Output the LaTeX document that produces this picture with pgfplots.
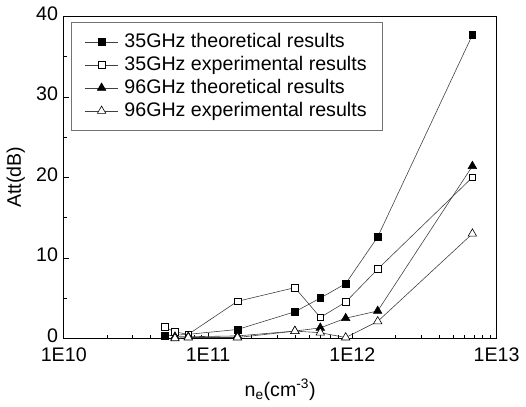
\documentclass[border=0pt]{standalone}
\usepackage{fontspec}
\setmainfont{Liberation Sans}
\usepackage{pgfplots}
\pgfplotsset{compat=1.18}
\begin{document}
\fontsize{20}{23}\selectfont
\begin{tikzpicture}
\begin{axis}[
  scale only axis, width=441pt, height=328pt,
  xmode=log, xmin=1e10, xmax=1e13,
  ymin=0, ymax=40,
  xtick={1e10,1e11,1e12,1e13},
  xticklabels={1E10,1E11,1E12,1E13},
  ytick={0,10,20,30,40}, minor ytick={5,15,25,35},
  tick align=inside, axis line style={black, line width=0.8pt},
  xtick pos=bottom, ytick pos=left,
  major tick length=5pt, minor tick length=3pt,
  tick style={black, line width=0.6pt},
  /pgf/number format/assume math mode=true,
  tick label style={font=\fontsize{20}{23}\selectfont},
  xticklabel style={yshift=-3pt},
  yticklabel style={xshift=1pt, yshift=3pt},
  label style={font=\fontsize{20}{23}\selectfont},
  xlabel={n\textsubscript{e}(cm\textsuperscript{-3})},
  xlabel style={yshift=-4pt},
  ylabel={Att(dB)},
  ylabel style={yshift=-2pt},
  clip=false,
  every axis plot/.append style={black!75, line width=0.6pt},
  legend style={at={(0.016,0.982)}, anchor=north west, draw=black!55,
    font=\fontsize{20}{23}\selectfont, row sep=2pt, inner xsep=14pt, inner ysep=9pt},
  legend cell align=left,
  legend image code/.code={
    \draw[#1] (0pt,0pt) -- (34pt,0pt);
    \draw[#1, mark repeat=2, mark phase=2] plot coordinates {(0pt,0pt) (17pt,0pt) (34pt,0pt)};
    \path (38pt,0pt);
  },
]
\addplot[mark=square*, mark size=3.4pt, mark options={fill=black, draw=black, solid}]
  coordinates {(5.0e10,0.3) (7.3e10,0.5) (1.6e11,1.1) (4.0e11,3.3) (6.0e11,5.0)
               (9.0e11,6.8) (1.5e12,12.6) (6.8e12,37.7)};
\addlegendentry{35GHz theoretical results}
\addplot[mark=square*, mark size=3.4pt, mark options={fill=white, draw=black, line width=0.6pt}]
  coordinates {(5.0e10,1.4) (5.9e10,0.8) (7.3e10,0.5) (1.6e11,4.6) (4.0e11,6.3)
               (6.0e11,2.6) (9.0e11,4.5) (1.5e12,8.6) (6.8e12,20.0)};
\addlegendentry{35GHz experimental results}
\addplot[mark=triangle*, mark size=5pt, mark options={fill=black, draw=black}]
  coordinates {(5.9e10,0.2) (7.3e10,0.2) (1.6e11,0.3) (4.0e11,0.9) (6.0e11,1.3)
               (9.0e11,2.5) (1.5e12,3.4) (6.8e12,21.4)};
\addlegendentry{96GHz theoretical results}
\addplot[mark=triangle*, mark size=5pt, mark options={fill=white, draw=black, line width=0.6pt}]
  coordinates {(5.9e10,0.0) (7.3e10,0.1) (1.6e11,0.1) (4.0e11,0.9) (6.0e11,0.7)
               (9.0e11,0.1) (1.5e12,2.1) (6.8e12,13.0)};
\addlegendentry{96GHz experimental results}
\end{axis}
\end{tikzpicture}
\end{document}
